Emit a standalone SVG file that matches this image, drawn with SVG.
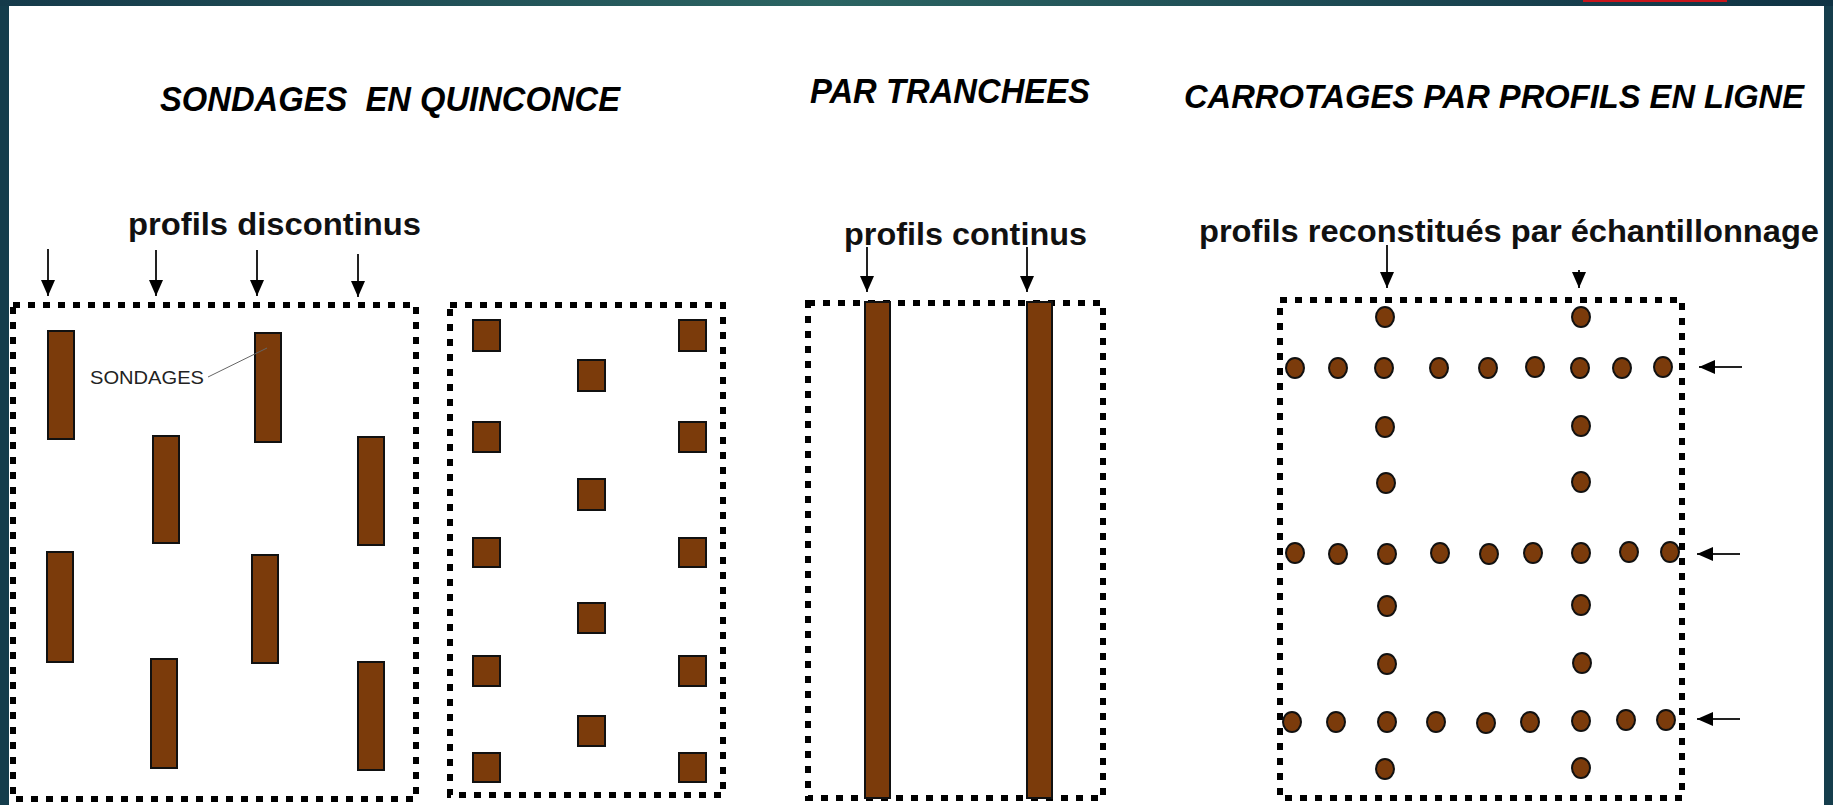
<svg xmlns="http://www.w3.org/2000/svg" width="1833" height="805" viewBox="0 0 1833 805">
  <defs>
    <linearGradient id="topband" x1="0" y1="0" x2="1" y2="0">
      <stop offset="0" stop-color="#153a4a"/>
      <stop offset="0.45" stop-color="#2b6462"/>
      <stop offset="0.85" stop-color="#173f4d"/>
      <stop offset="1" stop-color="#0f3344"/>
    </linearGradient>
    <marker id="ah" viewBox="0 0 16 14" refX="16" refY="7" markerWidth="16" markerHeight="14" markerUnits="userSpaceOnUse" orient="auto">
      <path d="M0,0 L16,7 L0,14 z" fill="#000"/>
    </marker>
    <style>
      .title { font-family: "Liberation Sans", Arial, sans-serif; font-weight: bold; font-style: italic; font-size: 35px; fill: #000; white-space: pre; }
      .title.wide { font-size: 33px; }
      .sub { font-family: "Liberation Sans", Arial, sans-serif; font-weight: bold; font-size: 31px; fill: #111; }
      .small { font-family: "Liberation Sans", Arial, sans-serif; font-size: 19px; fill: #222; }
      .frame { fill: none; stroke: #000; stroke-width: 6; stroke-dasharray: 7 8; }
      .soil { fill: #7b3b0b; stroke: #111; stroke-width: 2; }
      .arrow { stroke: #222; stroke-width: 2; fill: none; marker-end: url(#ah); }
      .leader { stroke: #666; stroke-width: 1; fill: none; }
    </style>
  </defs>

  <!-- slide background and white sheet -->
  <rect x="0" y="0" width="1833" height="805" fill="#153d4c"/>
  <rect x="0" y="0" width="1833" height="6" fill="url(#topband)"/>
  <rect x="1583" y="0" width="144" height="2" fill="#c8151b"/>
  <rect x="9" y="6" width="1815" height="799" fill="#fff"/>

  <!-- headings -->
  <g id="titles">
    <text class="title" x="160" y="111" textLength="460" lengthAdjust="spacingAndGlyphs" xml:space="preserve">SONDAGES  EN QUINCONCE</text>
    <text class="title" x="810" y="103" textLength="280" lengthAdjust="spacingAndGlyphs">PAR TRANCHEES</text>
    <text class="title wide" x="1184" y="108" textLength="620" lengthAdjust="spacingAndGlyphs">CARROTAGES PAR PROFILS EN LIGNE</text>
  </g>

  <g id="subtitles">
    <text class="sub" x="128" y="235" textLength="293" lengthAdjust="spacingAndGlyphs">profils discontinus</text>
    <text class="sub" x="844" y="245" textLength="243" lengthAdjust="spacingAndGlyphs">profils continus</text>
    <text class="sub" x="1199" y="242" textLength="620" lengthAdjust="spacingAndGlyphs">profils reconstitués par échantillonnage</text>
  </g>

  <!-- staggered boreholes, elongated -->
  <g id="quinconce-a">
    <rect class="frame" x="13" y="305" width="403" height="494"/>
    <rect class="soil" x="48" y="331" width="26" height="108"/>
    <rect class="soil" x="255" y="333" width="26" height="109"/>
    <rect class="soil" x="153" y="436" width="26" height="107"/>
    <rect class="soil" x="358" y="437" width="26" height="108"/>
    <rect class="soil" x="47" y="552" width="26" height="110"/>
    <rect class="soil" x="252" y="555" width="26" height="108"/>
    <rect class="soil" x="151" y="659" width="26" height="109"/>
    <rect class="soil" x="358" y="662" width="26" height="108"/>
    <text class="small" x="90" y="384" textLength="114" lengthAdjust="spacingAndGlyphs">SONDAGES</text>
    <line class="leader" x1="208" y1="377" x2="267" y2="348"/>
  </g>

  <!-- staggered boreholes, square pits -->
  <g id="quinconce-b">
    <rect class="frame" x="450" y="305" width="273" height="490"/>
    <rect class="soil" x="473" y="320" width="27" height="31"/>
    <rect class="soil" x="679" y="320" width="27" height="31"/>
    <rect class="soil" x="578" y="360" width="27" height="31"/>
    <rect class="soil" x="473" y="422" width="27" height="30"/>
    <rect class="soil" x="679" y="422" width="27" height="30"/>
    <rect class="soil" x="578" y="479" width="27" height="31"/>
    <rect class="soil" x="473" y="538" width="27" height="29"/>
    <rect class="soil" x="679" y="538" width="27" height="29"/>
    <rect class="soil" x="578" y="603" width="27" height="30"/>
    <rect class="soil" x="473" y="656" width="27" height="30"/>
    <rect class="soil" x="679" y="656" width="27" height="30"/>
    <rect class="soil" x="578" y="716" width="27" height="30"/>
    <rect class="soil" x="473" y="753" width="27" height="29"/>
    <rect class="soil" x="679" y="753" width="27" height="29"/>
  </g>

  <!-- trenches -->
  <g id="tranchees">
    <rect class="frame" x="808" y="303" width="295" height="495"/>
    <rect class="soil" x="865" y="302" width="25" height="496"/>
    <rect class="soil" x="1027" y="302" width="25" height="496"/>
  </g>

  <!-- core samples along lines -->
  <g id="carrotages">
    <rect class="frame" x="1280" y="300" width="402" height="498"/>
    <g class="soil">
      <ellipse cx="1385" cy="317" rx="9" ry="10"/>
      <ellipse cx="1581" cy="317" rx="9" ry="10"/>
      <ellipse cx="1295" cy="368" rx="9" ry="10"/>
      <ellipse cx="1338" cy="368" rx="9" ry="10"/>
      <ellipse cx="1384" cy="368" rx="9" ry="10"/>
      <ellipse cx="1439" cy="368" rx="9" ry="10"/>
      <ellipse cx="1488" cy="368" rx="9" ry="10"/>
      <ellipse cx="1535" cy="367" rx="9" ry="10"/>
      <ellipse cx="1580" cy="368" rx="9" ry="10"/>
      <ellipse cx="1622" cy="368" rx="9" ry="10"/>
      <ellipse cx="1663" cy="367" rx="9" ry="10"/>
      <ellipse cx="1385" cy="427" rx="9" ry="10"/>
      <ellipse cx="1581" cy="426" rx="9" ry="10"/>
      <ellipse cx="1386" cy="483" rx="9" ry="10"/>
      <ellipse cx="1581" cy="482" rx="9" ry="10"/>
      <ellipse cx="1295" cy="553" rx="9" ry="10"/>
      <ellipse cx="1338" cy="554" rx="9" ry="10"/>
      <ellipse cx="1387" cy="554" rx="9" ry="10"/>
      <ellipse cx="1440" cy="553" rx="9" ry="10"/>
      <ellipse cx="1489" cy="554" rx="9" ry="10"/>
      <ellipse cx="1533" cy="553" rx="9" ry="10"/>
      <ellipse cx="1581" cy="553" rx="9" ry="10"/>
      <ellipse cx="1629" cy="552" rx="9" ry="10"/>
      <ellipse cx="1670" cy="552" rx="9" ry="10"/>
      <ellipse cx="1387" cy="606" rx="9" ry="10"/>
      <ellipse cx="1581" cy="605" rx="9" ry="10"/>
      <ellipse cx="1387" cy="664" rx="9" ry="10"/>
      <ellipse cx="1582" cy="663" rx="9" ry="10"/>
      <ellipse cx="1292" cy="722" rx="9" ry="10"/>
      <ellipse cx="1336" cy="722" rx="9" ry="10"/>
      <ellipse cx="1387" cy="722" rx="9" ry="10"/>
      <ellipse cx="1436" cy="722" rx="9" ry="10"/>
      <ellipse cx="1486" cy="723" rx="9" ry="10"/>
      <ellipse cx="1530" cy="722" rx="9" ry="10"/>
      <ellipse cx="1581" cy="721" rx="9" ry="10"/>
      <ellipse cx="1626" cy="720" rx="9" ry="10"/>
      <ellipse cx="1666" cy="720" rx="9" ry="10"/>
      <ellipse cx="1385" cy="769" rx="9" ry="10"/>
      <ellipse cx="1581" cy="768" rx="9" ry="10"/>
    </g>
  </g>

  <!-- profile direction arrows -->
  <g id="connectors">
    <line class="arrow" x1="48" y1="249" x2="48" y2="296"/>
    <line class="arrow" x1="156" y1="250" x2="156" y2="296"/>
    <line class="arrow" x1="257" y1="250" x2="257" y2="296"/>
    <line class="arrow" x1="358" y1="254" x2="358" y2="297"/>
    <line class="arrow" x1="867" y1="247" x2="867" y2="292"/>
    <line class="arrow" x1="1027" y1="247" x2="1027" y2="292"/>
    <line class="arrow" x1="1387" y1="245" x2="1387" y2="288"/>
    <line class="arrow" x1="1579" y1="270" x2="1579" y2="288"/>
    <line class="arrow" x1="1742" y1="367" x2="1699" y2="367"/>
    <line class="arrow" x1="1740" y1="554" x2="1697" y2="554"/>
    <line class="arrow" x1="1740" y1="719" x2="1697" y2="719"/>
  </g>
</svg>
